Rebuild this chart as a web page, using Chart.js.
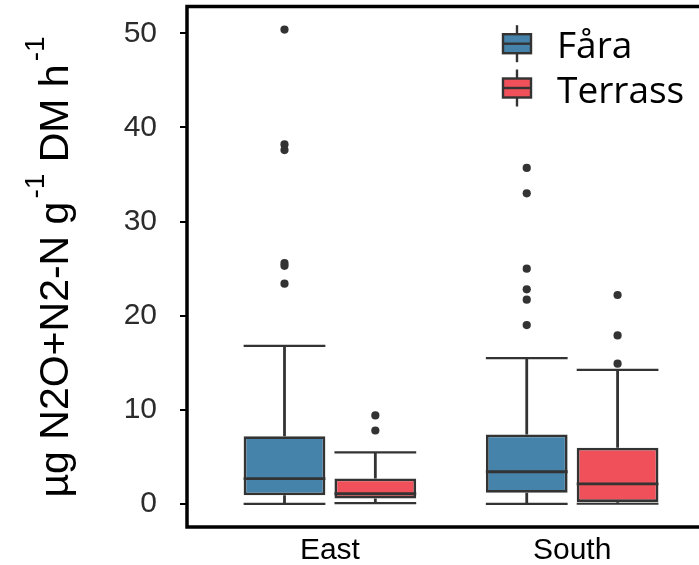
<!DOCTYPE html>
<html>
<head>
<meta charset="utf-8">
<script src="https://cdn.jsdelivr.net/npm/chart.js@4/dist/chart.umd.min.js"></script>
<style>
  html, body { margin: 0; padding: 0; background: #fff; overflow: hidden; }
  #wrap { width: 720px; height: 565px; position: relative; }
</style>
</head>
<body>
<div id="wrap"><canvas id="c"></canvas></div>
<script>
// Sites on the x axis and the two treatments
const categories = ['East', 'South'];
const seriesNames = ['Fåra', 'Terrass'];
const seriesColors = ['#4683AA', '#EF505A'];
const yTicks = [0, 10, 20, 30, 40, 50];

// Box-plot statistics, Fåra
const faraLow      = [0.0, 0.0];
const faraQ1       = [0.93, 1.19];
const faraMedian   = [2.7, 3.42];
const faraQ3       = [7.2, 7.38];
const faraHigh     = [16.8, 15.5];
const faraOutliers = [
  [50.4, 38.2, 37.6, 25.6, 25.3, 23.4],
  [35.7, 33.0, 25.0, 22.8, 21.7, 19.0]
];

// Box-plot statistics, Terrass
const terrLow      = [0.08, 0.02];
const terrQ1       = [0.58, 0.19];
const terrMedian   = [1.08, 2.14];
const terrQ3       = [2.7, 5.97];
const terrHigh     = [5.47, 14.25];
const terrOutliers = [
  [9.4, 7.8],
  [22.2, 17.9, 14.9]
];

const INK = '#333333';

function makeDataset(k, low, q1, med, q3, high, outliers) {
  return {
    label: seriesNames[k],
    backgroundColor: seriesColors[k],
    data: categories.map((c, i) => ({ x: i + 1, y: [q1[i], q3[i]] })),
    stats: { low, med, high, outliers }
  };
}

const datasets = [
  makeDataset(0, faraLow, faraQ1, faraMedian, faraQ3, faraHigh, faraOutliers),
  makeDataset(1, terrLow, terrQ1, terrMedian, terrQ3, terrHigh, terrOutliers)
];

function clipToArea(ctx, a) {
  ctx.beginPath();
  ctx.rect(a.left, a.top, a.right - a.left, a.bottom - a.top);
  ctx.clip();
}

// Whiskers, caps, medians and outlier points placed on each bar element
const boxPlugin = {
  id: 'boxExtras',
  beforeDatasetsDraw(chart) {
    const { ctx, chartArea, scales: { y } } = chart;
    ctx.save();
    clipToArea(ctx, chartArea);
    ctx.strokeStyle = INK;
    chart.data.datasets.forEach((ds, d) => {
      const meta = chart.getDatasetMeta(d);
      meta.data.forEach((el, i) => {
        const { x, width } = el.getProps(['x', 'width'], true);
        const [q1, q3] = ds.data[i].y;
        const yLow = y.getPixelForValue(ds.stats.low[i]);
        const yHigh = y.getPixelForValue(ds.stats.high[i]);
        ctx.lineWidth = 2.8;
        ctx.beginPath();
        ctx.moveTo(x, y.getPixelForValue(q3));
        ctx.lineTo(x, yHigh);
        ctx.moveTo(x, y.getPixelForValue(q1));
        ctx.lineTo(x, yLow);
        ctx.stroke();
        ctx.lineWidth = 2.2;
        ctx.beginPath();
        ctx.moveTo(x - width / 2, yHigh);
        ctx.lineTo(x + width / 2, yHigh);
        ctx.moveTo(x - width / 2, yLow);
        ctx.lineTo(x + width / 2, yLow);
        ctx.stroke();
      });
    });
    ctx.restore();
  },
  afterDatasetsDraw(chart) {
    const { ctx, chartArea, scales: { y } } = chart;
    ctx.save();
    clipToArea(ctx, chartArea);
    chart.data.datasets.forEach((ds, d) => {
      const meta = chart.getDatasetMeta(d);
      meta.data.forEach((el, i) => {
        const { x, width } = el.getProps(['x', 'width'], true);
        const ym = y.getPixelForValue(ds.stats.med[i]);
        ctx.strokeStyle = INK;
        ctx.lineWidth = 2.8;
        ctx.beginPath();
        ctx.moveTo(x - width / 2, ym);
        ctx.lineTo(x + width / 2, ym);
        ctx.stroke();
        ctx.fillStyle = INK;
        ds.stats.outliers[i].forEach(v => {
          ctx.beginPath();
          ctx.arc(x, y.getPixelForValue(v), 4.1, 0, Math.PI * 2);
          ctx.fill();
        });
      });
    });
    ctx.restore();
  }
};

// Black panel frame
const framePlugin = {
  id: 'panelFrame',
  afterDraw(chart) {
    const { ctx, chartArea: a } = chart;
    ctx.save();
    ctx.strokeStyle = '#000';
    ctx.lineWidth = 3.5;
    ctx.strokeRect(a.left, a.top, a.right - a.left, a.bottom - a.top);
    ctx.restore();
  }
};

// Rotated y-axis title with superscript exponents
const titlePlugin = {
  id: 'yTitle',
  afterDraw(chart) {
    const { ctx } = chart;
    const size = 41;
    const supSize = 28;
    const parts = [
      { t: 'µg N2O+N2-N g', sup: false },
      { t: '-1', sup: true },
      { t: ' DM h', sup: false },
      { t: '-1', sup: true }
    ];
    ctx.save();
    ctx.fillStyle = '#000';
    ctx.textBaseline = 'alphabetic';
    ctx.textAlign = 'left';
    let total = 0;
    parts.forEach(p => {
      ctx.font = (p.sup ? supSize : size) + 'px "Liberation Sans", Arial, sans-serif';
      p.w = ctx.measureText(p.t).width + (p.sup ? 3 : 0);
      total += p.w;
    });
    ctx.translate(68, 267);
    ctx.rotate(-Math.PI / 2);
    let x = -total / 2;
    parts.forEach(p => {
      ctx.font = (p.sup ? supSize : size) + 'px "Liberation Sans", Arial, sans-serif';
      ctx.fillText(p.t, x + (p.sup ? 3 : 0), p.sup ? -24 : 0);
      x += p.w;
    });
    ctx.restore();
  }
};

// Legend with small box-plot glyphs
const legendPlugin = {
  id: 'boxLegend',
  afterDraw(chart) {
    const { ctx } = chart;
    const cx = 517, bw = 28, bh = 19;
    const rowY = [43.7, 88];
    ctx.save();
    seriesNames.forEach((name, k) => {
      const cy = rowY[k];
      ctx.strokeStyle = INK;
      ctx.lineWidth = 2.4;
      ctx.beginPath();
      ctx.moveTo(cx, cy - bh / 2 - 9);
      ctx.lineTo(cx, cy + bh / 2 + 9);
      ctx.stroke();
      ctx.fillStyle = seriesColors[k];
      ctx.fillRect(cx - bw / 2, cy - bh / 2, bw, bh);
      ctx.strokeRect(cx - bw / 2, cy - bh / 2, bw, bh);
      ctx.beginPath();
      ctx.moveTo(cx - bw / 2, cy);
      ctx.lineTo(cx + bw / 2, cy);
      ctx.stroke();
      ctx.fillStyle = '#000';
      ctx.font = '37px "Open Sans", Lato, sans-serif';
      ctx.textBaseline = 'alphabetic';
      ctx.textAlign = 'left';
      ctx.fillText(name, 557, cy + 14.5);
    });
    ctx.restore();
  }
};

new Chart(document.getElementById('c'), {
  type: 'bar',
  data: { datasets },
  options: {
    responsive: true,
    maintainAspectRatio: false,
    animation: false,
    layout: { padding: { top: 6.5, right: 2.5, bottom: 0, left: 0 } },
    datasets: {
      bar: {
        barPercentage: 0.9,
        categoryPercentage: 0.75,
        borderWidth: 2.8,
        borderColor: INK,
        borderSkipped: false
      }
    },
    plugins: {
      legend: { display: false },
      tooltip: { enabled: false },
      title: { display: false }
    },
    scales: {
      x: {
        type: 'linear',
        min: 0.41,
        max: 2.6,
        offset: false,
        afterBuildTicks: (s) => { s.ticks = categories.map((c, i) => ({ value: i + 1 })); },
        afterFit: (s) => { s.height = 38; s.paddingLeft = 0; s.paddingRight = 0; },
        grid: { display: false, drawTicks: false, offset: false },
        border: { display: false },
        ticks: {
          callback: (v) => categories[v - 1] ?? '',
          font: { family: '"Liberation Sans", Arial, sans-serif', size: 30 },
          color: '#000',
          padding: 6,
          autoSkip: false,
          maxRotation: 0
        }
      },
      y: {
        min: -2.45,
        max: 52.85,
        afterBuildTicks: (s) => { s.ticks = yTicks.map(v => ({ value: v })); },
        afterFit: (s) => { s.width = 187; s.paddingTop = 0; s.paddingBottom = 0; },
        grid: { drawOnChartArea: false, drawTicks: true, tickLength: 7, color: '#000', lineWidth: 2 },
        border: { display: false },
        ticks: {
          font: { family: '"Liberation Sans", Arial, sans-serif', size: 30 },
          color: '#2b2b2b',
          padding: 23
        }
      }
    }
  },
  plugins: [boxPlugin, framePlugin, titlePlugin, legendPlugin]
});
</script>
</body>
</html>
